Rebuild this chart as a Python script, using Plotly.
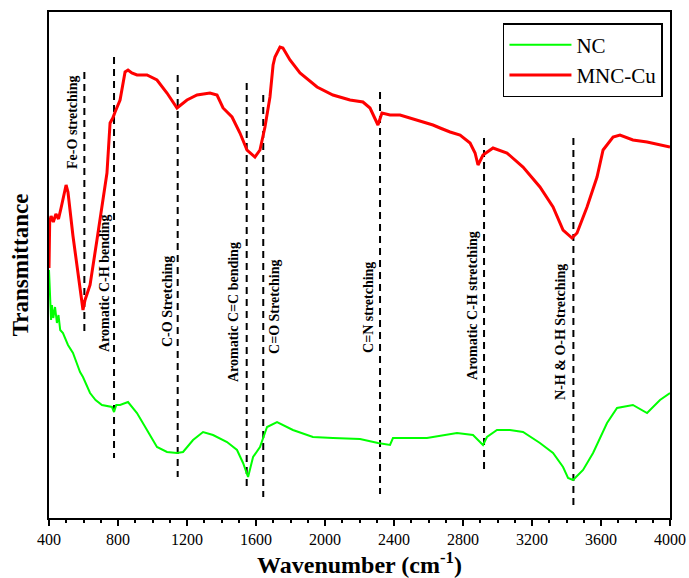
import plotly.graph_objects as go

# ---- data (wavenumber cm^-1, transmittance a.u.) ----
nc_wn = [400, 407, 412, 417, 425, 435, 446, 455, 465, 481, 510, 539, 580, 597, 638, 670, 707, 765, 777, 790,
         812, 858, 910, 968, 1026, 1084, 1142, 1177, 1235, 1293, 1351, 1432, 1490, 1525, 1554, 1583, 1623,
         1664, 1722, 1814, 1930, 2046, 2203, 2307, 2377, 2394, 2591, 2765, 2858, 2916, 2939, 2997, 3072,
         3148, 3246, 3322, 3380, 3409, 3438, 3496, 3554, 3635, 3693, 3785, 3867, 3942, 4000]
nc_t = [248, 218, 198, 213, 200, 211, 195, 203, 188, 185, 173, 165, 146, 141, 125, 118, 113, 111, 106, 113,
        113, 116, 105, 88, 71, 66, 65, 66, 78, 86, 83, 76, 68, 55, 41, 61, 71,
        91, 96, 88, 81, 80, 79, 75, 73, 80, 80, 85, 83, 73, 81, 88, 88,
        86, 75, 65, 51, 40, 38, 48, 65, 95, 110, 113, 105, 118, 125]

mnc_wn = [400, 404, 412, 425, 440, 455, 470, 485, 499, 510, 539, 568, 597, 609, 638, 678, 707, 736, 754, 770,
          783, 812, 841, 858, 880, 910, 968, 1026, 1084, 1142, 1200, 1258, 1333, 1374, 1409, 1461, 1507,
          1548, 1594, 1623, 1652, 1681, 1699, 1710, 1739, 1756, 1797, 1855, 1954, 2046, 2145, 2220, 2261,
          2307, 2330, 2377, 2435, 2533, 2626, 2667, 2725, 2783, 2841, 2870, 2887, 2916, 2974, 3055, 3148,
          3246, 3322, 3380, 3432, 3461, 3519, 3577, 3612, 3670, 3710, 3785, 3867, 4000]
mnc_t = [250, 296, 302, 296, 304, 299, 310, 323, 333, 326, 282, 245, 208, 218, 233, 278, 312, 345, 395, 400,
         406, 418, 446, 448, 445, 443, 443, 438, 425, 410, 418, 423, 425, 423, 410, 401, 385,
         368, 361, 368, 391, 421, 453, 461, 471, 470, 458, 445, 431, 423, 418, 416, 410,
         393, 405, 403, 403, 398, 393, 390, 386, 383, 375, 365, 353, 363, 370, 365, 351,
         331, 311, 288, 280, 285, 311, 341, 368, 381, 383, 378, 376, 371]

band_labels = ["Fe-O stretching", "Aromatic C-H bending", "C-O Stretching", "Aromatic C=C bending",
               "C=O Stretching", "C=N stretching", "Aromatic C-H stretching", "N-H & O-H Stretching"]
band_wn = [605, 777, 1146, 1546, 1642, 2319, 2922, 3440]
band_top = [446, 461, 443, 435, 423, 426, 380, 380]
band_bottom = [183, 60, 41, 31, 21, 24, 45, 13]
label_wn = [533, 719, 1084, 1467, 1704, 2249, 2852, 3362]
label_t = [396, 234, 217, 206, 211, 211, 213, 186]

FONT = "Times New Roman, Liberation Serif, serif"

fig = go.Figure()

for w, t0, t1 in zip(band_wn, band_top, band_bottom):
    fig.add_trace(go.Scatter(x=[w, w], y=[t0, t1], mode="lines", showlegend=False, hoverinfo="skip",
                             line=dict(color="black", width=2, dash="7px,5px")))

fig.add_trace(go.Scatter(x=nc_wn, y=nc_t, mode="lines", name="NC",
                         line=dict(color="#00ff00", width=2)))
fig.add_trace(go.Scatter(x=mnc_wn, y=mnc_t, mode="lines", name="MNC-Cu",
                         line=dict(color="#ff0000", width=3)))

for lab, w, t in zip(band_labels, label_wn, label_t):
    fig.add_annotation(x=w, y=t, text="<b>" + lab + "</b>", textangle=-90, showarrow=False,
                       xanchor="center", yanchor="middle",
                       font=dict(family=FONT, size=14, color="black"))

fig.update_layout(
    width=689, height=578,
    margin=dict(l=49, r=19, t=12, b=60, autoexpand=False),
    paper_bgcolor="white", plot_bgcolor="white",
    font=dict(family=FONT, color="black"),
    legend=dict(x=0.731, y=0.978, xanchor="left", yanchor="top",
                bordercolor="black", borderwidth=1.5, bgcolor="white",
                font=dict(family=FONT, size=21, color="black"), itemwidth=62,
                tracegroupgap=0),
)
fig.update_xaxes(range=[400, 4000], dtick=400, tick0=400, showgrid=False, zeroline=False,
                 automargin=False,
                 showline=True, linecolor="black", linewidth=2, mirror=True,
                 ticks="outside", ticklen=6, tickwidth=1.5, tickcolor="black",
                 minor=dict(dtick=100, ticks="outside", ticklen=3, tickwidth=1.5, tickcolor="black"),
                 tickfont=dict(family=FONT, size=16, color="black"),
                 title=dict(text="<b>Wavenumber (cm<sup>-1</sup>)</b>", standoff=12,
                            font=dict(family=FONT, size=24, color="black")))
fig.update_yaxes(range=[0, 506], showgrid=False, zeroline=False, showticklabels=False, ticks="",
                 automargin=False,
                 showline=True, linecolor="black", linewidth=2, mirror=True,
                 title=dict(text="<b>Transmittance</b>", standoff=12,
                            font=dict(family=FONT, size=23, color="black")))

fig.write_html("out.html")
